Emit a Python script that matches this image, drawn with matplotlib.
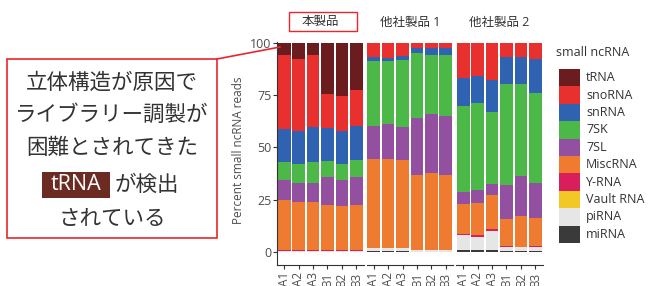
import matplotlib
matplotlib.use("Agg")
import matplotlib.pyplot as plt
from matplotlib.patches import Rectangle
from matplotlib.lines import Line2D
import numpy as np

plt.rcParams["font.family"] = ["Open Sans", "Noto Sans CJK JP", "DejaVu Sans"]

products = ["本製品", "他社製品 1", "他社製品 2"]
samples = ["A1", "A2", "A3", "B1", "B2", "B3"]
categories = ["tRNA", "snoRNA", "snRNA", "7SK", "7SL", "MiscRNA",
              "Y-RNA", "Vault RNA", "piRNA", "miRNA"]
colors = ["#6b1c1e", "#e8312f", "#2f62b0", "#4cb848", "#9350a1", "#ee7b30",
          "#d81e5b", "#f2c827", "#e6e6e6", "#3a3a3a"]

# percent per sample: 本製品 A1..B3, 他社製品1 A1..B3, 他社製品2 A1..B3
trna = [6.0, 7.6, 6.0, 24.2, 25.5, 22.7,
        0, 0, 0, 0, 0, 0,
        0, 0, 0, 0, 0, 0]
snorna = [35.0, 34.6, 34.3, 16.6, 16.5, 17.1,
          6.8, 7.0, 6.3, 2.3, 2.3, 2.3,
          16.7, 15.9, 17.5, 6.6, 6.6, 7.6]
snrna = [16.0, 15.9, 16.7, 15.7, 15.7, 16.4,
         1.9, 1.7, 1.9, 2.7, 3.7, 3.7,
         13.2, 12.7, 15.3, 12.8, 12.8, 16.2]
rn7sk = [8.6, 8.8, 10.0, 7.5, 7.9, 7.7,
         30.8, 30.3, 31.9, 30.8, 28.0, 29.0,
         41.5, 41.5, 34.8, 48.3, 44.3, 43.1]
rn7sl = [9.4, 9.3, 9.0, 13.3, 12.4, 13.7,
         16.2, 16.7, 15.9, 27.2, 28.1, 28.0,
         5.4, 6.4, 4.9, 16.7, 19.2, 16.7]
miscrna = [23.8, 22.6, 22.8, 21.5, 20.8, 21.2,
           42.6, 42.6, 42.3, 36.2, 37.1, 36.2,
           14.4, 15.5, 16.3, 12.8, 14.6, 13.6]
yrna = [0.6, 0.6, 0.6, 0.6, 0.6, 0.6,
        0, 0, 0, 0, 0, 0,
        0.6, 0.6, 1.2, 0.2, 0.2, 0.2]
vaultrna = [0, 0, 0, 0, 0, 0,
            0, 0, 0, 0, 0, 0,
            0, 0, 0, 0, 0, 0]
pirna = [0.5, 0.5, 0.5, 0.5, 0.5, 0.5,
         1.4, 1.4, 1.4, 0.6, 0.6, 0.6,
         7.2, 6.5, 8.9, 2.1, 1.8, 2.1]
mirna = [0.1, 0.1, 0.1, 0.1, 0.1, 0.1,
         0.3, 0.3, 0.3, 0.2, 0.2, 0.2,
         0.9, 0.9, 1.1, 0.5, 0.5, 0.5]

values = [trna, snorna, snrna, rn7sk, rn7sl, miscrna, yrna, vaultrna, pirna, mirna]

W, H = 649, 286
fig = plt.figure(figsize=(W / 100, H / 100), dpi=100)


def px_box(l, t, r, b):
    return [l / W, 1 - b / H, (r - l) / W, (b - t) / H]


def fx(x):
    return x / W


def fy(y):
    return 1 - y / H


grey = "#4d4d4d"
red = "#e8262b"
lefts = [277, 366.5, 456]
pw = 86.5
x = np.arange(1, len(samples) + 1)

for p, name in enumerate(products):
    ax = fig.add_axes(px_box(lefts[p], 41.7, lefts[p] + pw, 265))
    sl = slice(p * 6, p * 6 + 6)
    bottom = np.zeros(len(samples))
    # ggplot stacks the first level on top, so draw from the last one up
    for cat, col, vals in reversed(list(zip(categories, colors, values))):
        v = np.array(vals[sl])
        ax.bar(x, v, bottom=bottom, width=0.88, color=col, linewidth=0)
        bottom += v
    ax.set_xlim(0.5, 6.5)
    ax.set_ylim(-6.2, 100.6)
    ax.set_xticks(x)
    ax.set_xticklabels(samples, rotation=90, fontsize=8.5, color=grey)
    for s in ["top", "right"]:
        ax.spines[s].set_visible(False)
    ax.spines["bottom"].set_color("#333333")
    ax.spines["bottom"].set_linewidth(0.8)
    ax.tick_params(axis="x", length=3, width=0.8, color="#333333", pad=2)
    if p == 0:
        ax.spines["left"].set_color("#333333")
        ax.spines["left"].set_linewidth(0.8)
        ax.set_yticks([0, 25, 50, 75, 100])
        ax.tick_params(axis="y", length=3, width=0.8, color="#333333",
                       labelsize=9, labelcolor=grey, pad=1)
    else:
        ax.spines["left"].set_visible(False)
        ax.set_yticks([])
    fig.text(fx(lefts[p] + pw / 2), fy(22), name, ha="center", va="center",
             fontsize=9, color="#333333")

# red box round 本製品
fig.add_artist(Rectangle((fx(289), fy(31)), (357 - 289) / W, 19 / H,
                         transform=fig.transFigure, fill=False,
                         edgecolor=red, linewidth=1))

fig.text(fx(239), fy(150), "Percent small ncRNA reads", rotation=90,
         ha="center", va="center", fontsize=8.5, color=grey)

# legend
fig.text(fx(556), fy(52), "small ncRNA", ha="left", va="center",
         fontsize=9, color="#333333")
step = 17.4
for i, (cat, col) in enumerate(zip(categories, colors)):
    top = 69 + i * step
    fig.add_artist(Rectangle((fx(559), fy(top + step)), 21 / W, step / H,
                             transform=fig.transFigure, facecolor=col,
                             edgecolor="none"))
    fig.text(fx(586), fy(top + step / 2), cat, ha="left", va="center",
             fontsize=9, color="#333333")

# callout box on the left
fig.add_artist(Rectangle((fx(7), fy(238)), 210 / W, 179 / H,
                         transform=fig.transFigure, fill=False,
                         edgecolor=red, linewidth=1.2))
fig.add_artist(Line2D([fx(217), fx(280)], [fy(59), fy(47)],
                      transform=fig.transFigure, color=red, linewidth=1.2))

fs = 15.5
tc = "#333333"
fig.text(fx(112), fy(83), "立体構造が原因で", ha="center", va="center",
         fontsize=fs, color=tc)
fig.text(fx(112), fy(115), "ライブラリー調製が", ha="center", va="center",
         fontsize=fs, color=tc)
fig.text(fx(112), fy(148), "困難とされてきた", ha="center", va="center",
         fontsize=fs, color=tc)
fig.add_artist(Rectangle((fx(42), fy(198)), 68 / W, 26 / H,
                         transform=fig.transFigure, facecolor="#6b2a22",
                         edgecolor="none"))
fig.text(fx(76), fy(185), "tRNA", ha="center", va="center",
         fontsize=fs, color="white")
fig.text(fx(115), fy(185), "が検出", ha="left", va="center",
         fontsize=fs, color=tc)
fig.text(fx(112), fy(220), "されている", ha="center", va="center",
         fontsize=fs, color=tc)

fig.savefig("out.png", dpi=100)
